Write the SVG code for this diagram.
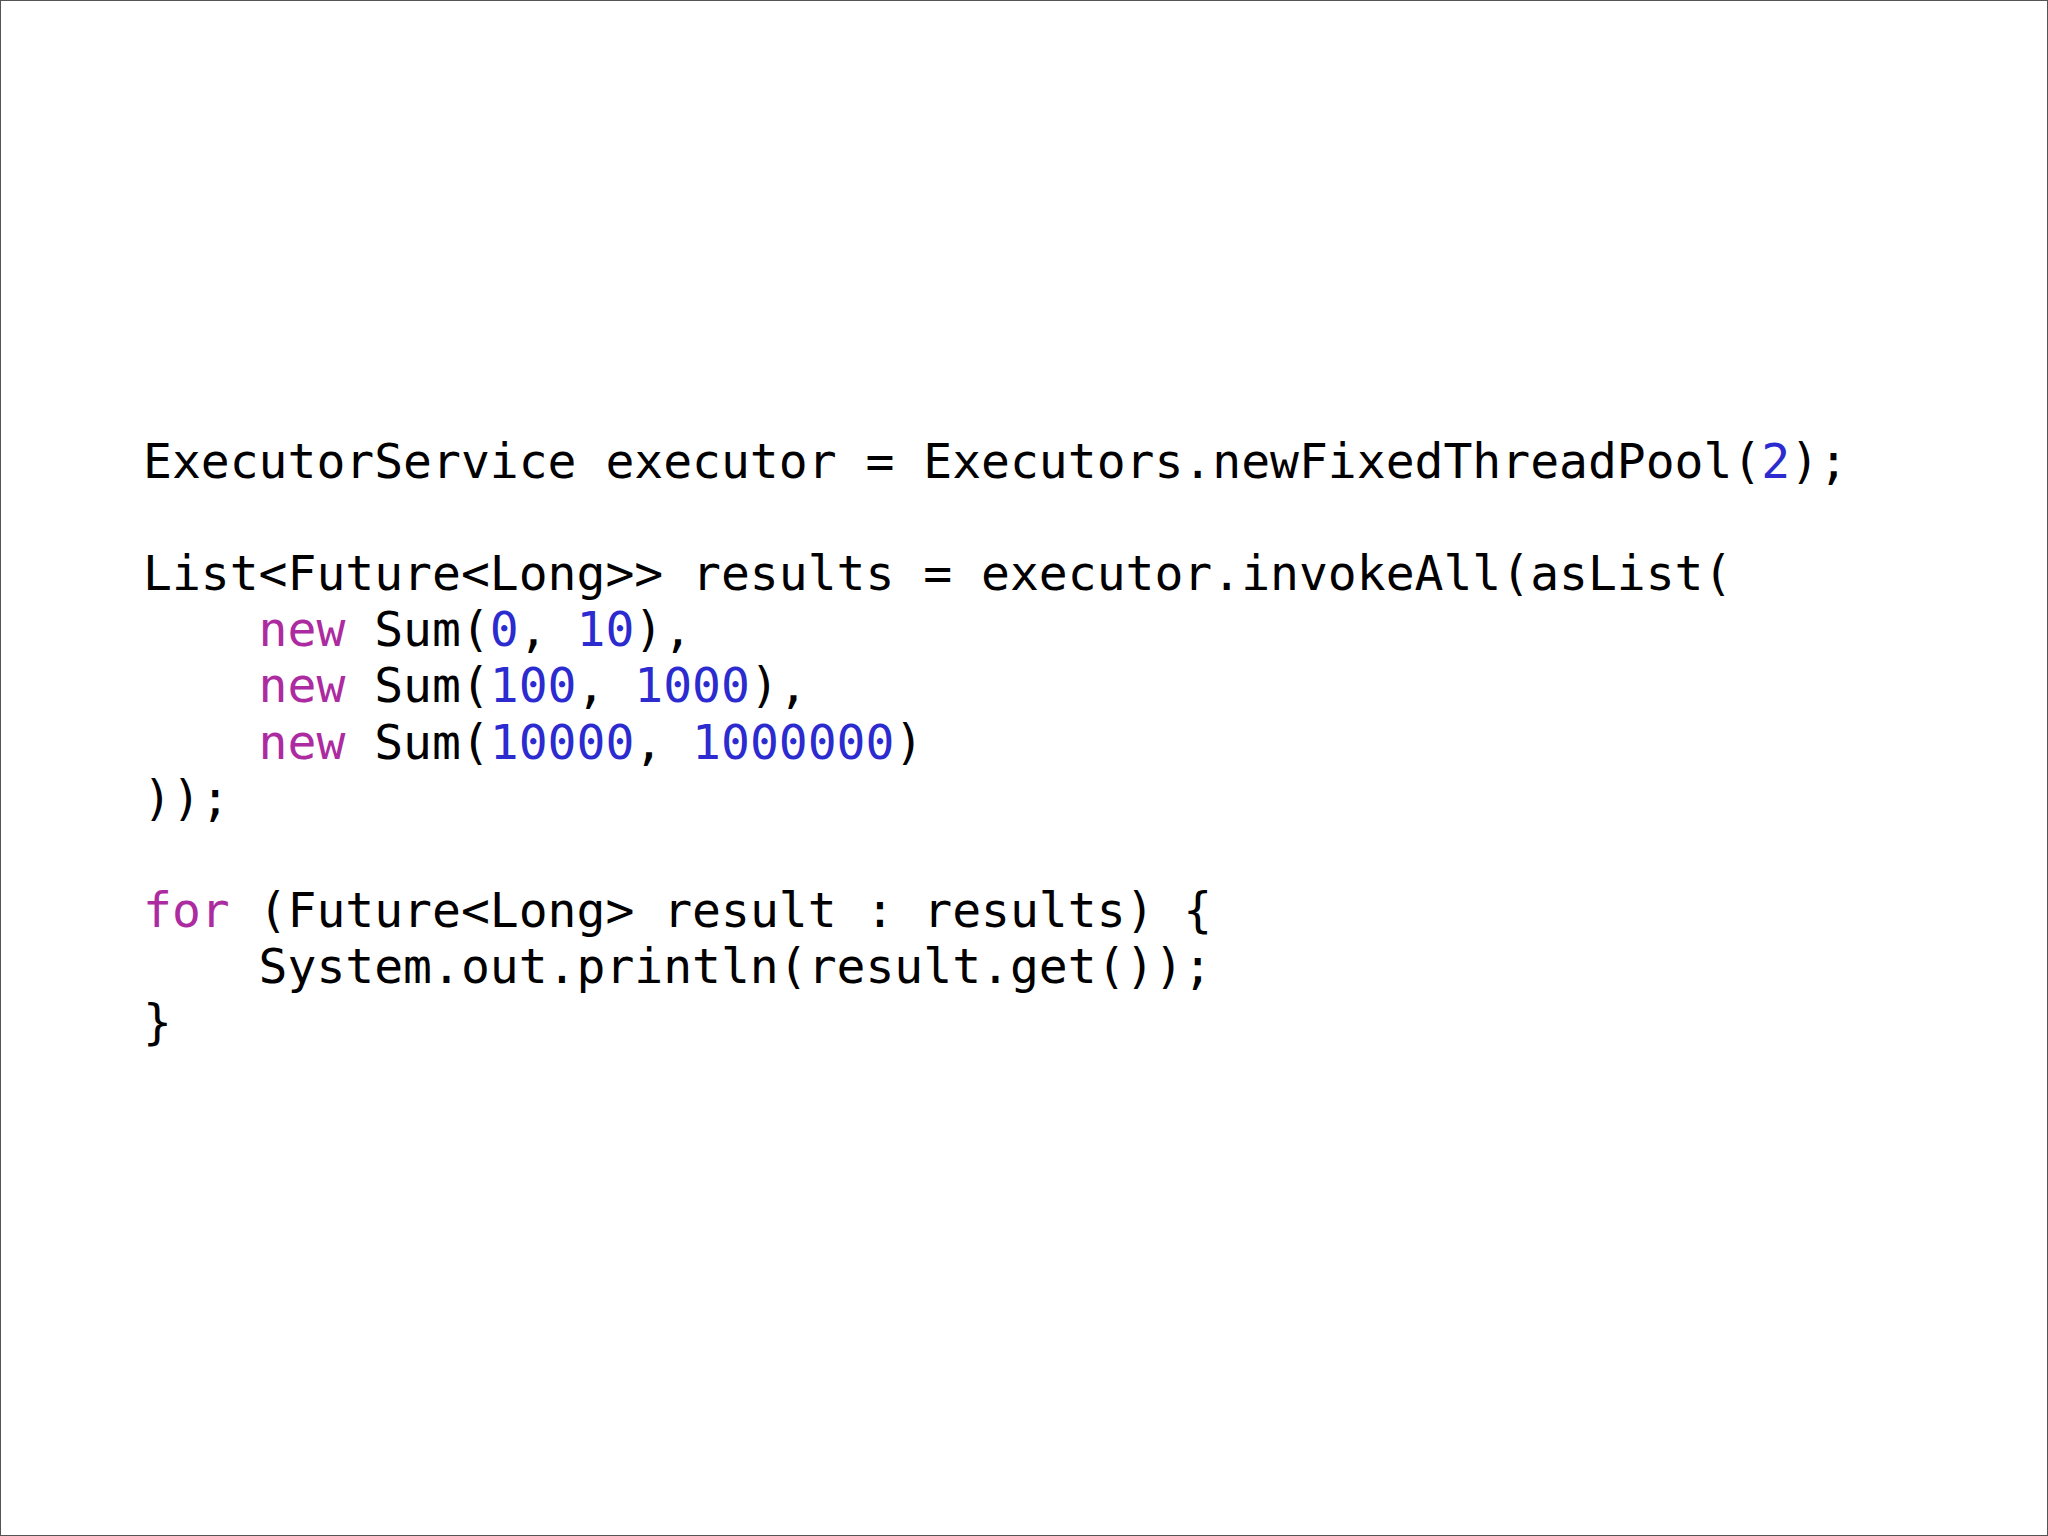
<svg xmlns="http://www.w3.org/2000/svg" width="2048" height="1536" viewBox="0 0 2048 1536">
<style>
text{font-family:"DejaVu Sans Mono",monospace;font-size:48px;fill:#000;white-space:pre}
.k{fill:#AD2BA0}.n{fill:#2B2BD0}
</style>
<rect x="0.5" y="0.5" width="2047" height="1535" fill="#fff" stroke="#555" stroke-width="1"/>
<g id="code" xml:space="preserve">
<text x="143" y="478">ExecutorService executor = Executors.newFixedThreadPool(<tspan class="n">2</tspan>);</text>
<text x="143" y="590">List&lt;Future&lt;Long&gt;&gt; results = executor.invokeAll(asList(</text>
<text x="143" y="646">    <tspan class="k">new</tspan> Sum(<tspan class="n">0</tspan>, <tspan class="n">10</tspan>),</text>
<text x="143" y="702">    <tspan class="k">new</tspan> Sum(<tspan class="n">100</tspan>, <tspan class="n">1000</tspan>),</text>
<text x="143" y="759">    <tspan class="k">new</tspan> Sum(<tspan class="n">10000</tspan>, <tspan class="n">1000000</tspan>)</text>
<text x="143" y="815">));</text>
<text x="143" y="927"><tspan class="k">for</tspan> (Future&lt;Long&gt; result : results) {</text>
<text x="143" y="983">    System.out.println(result.get());</text>
<text x="143" y="1039">}</text>
</g>
</svg>
